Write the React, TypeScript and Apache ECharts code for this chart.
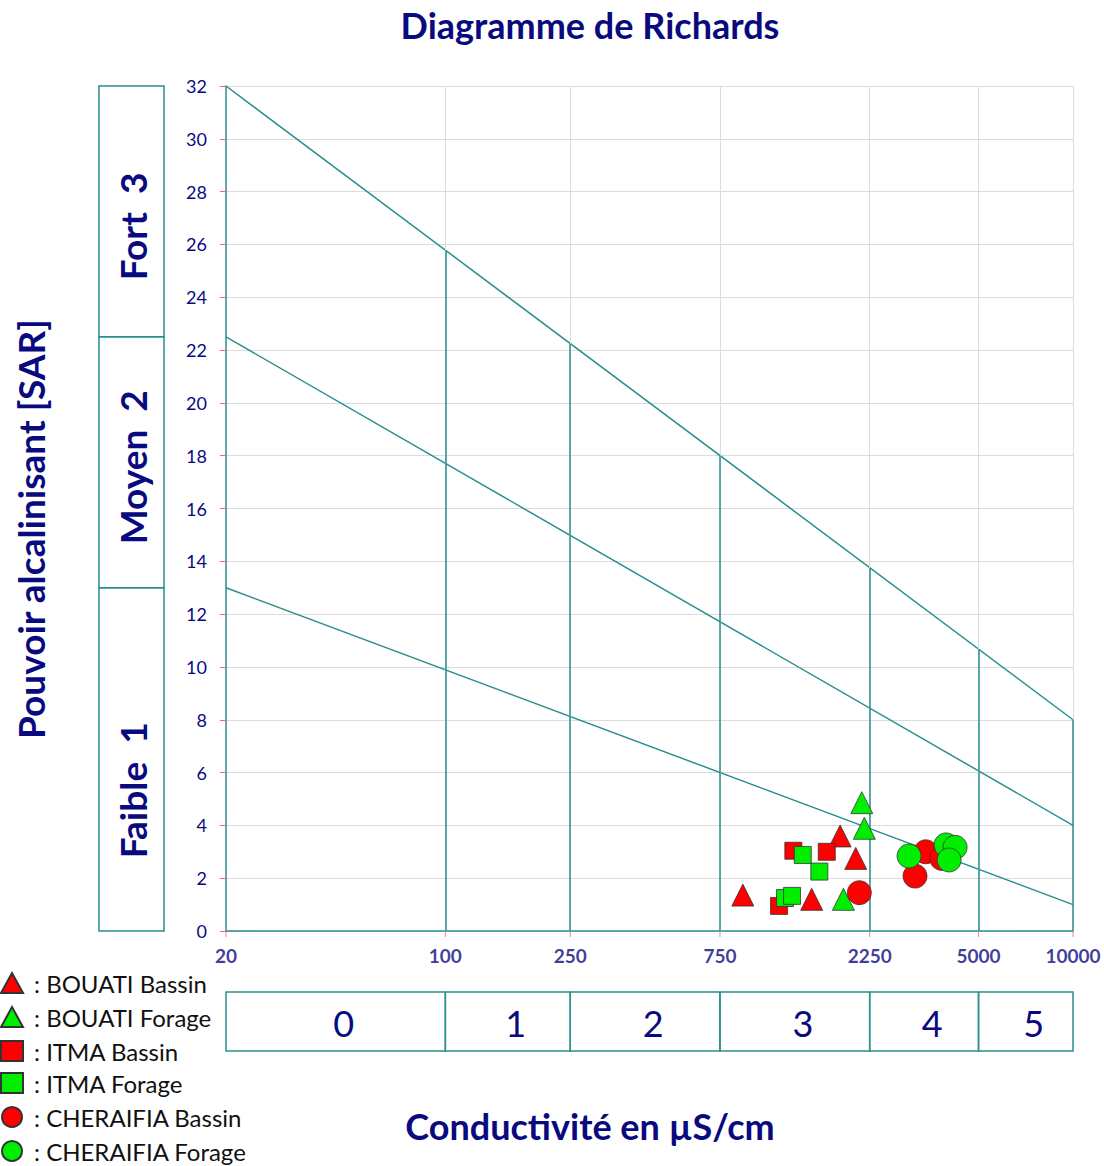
import React, { useEffect, useRef } from 'react';
import * as echarts from 'echarts';

// ---- data ----
const conductivityTicks = [20, 100, 250, 750, 2250, 5000, 10000];
const classLabels = ['0', '1', '2', '3', '4', '5'];
const sarBounds = [0, 13, 22.5, 32];
const sarClassLabels = ['Faible  1', 'Moyen  2', 'Fort  3'];
const topLine = [[20, 32], [10000, 8]];
const midLine = [[20, 22.5], [10000, 4]];
const lowLine = [[20, 13], [10000, 1]];

const seriesNames = ['BOUATI Bassin', 'BOUATI Forage', 'ITMA Bassin', 'ITMA Forage', 'CHERAIFIA Bassin', 'CHERAIFIA Forage'];
const bouatiBassin = [[887, 1.36], [1470, 1.2], [1811, 3.6], [2031, 2.75]];
const bouatiForage = [[2123, 4.86], [2163, 3.89], [1855, 1.2]];
const itmaBassin = [[1285, 3.04], [1642, 3.0], [1157, 0.95]];
const itmaForage = [[1377, 2.88], [1555, 2.25], [1209, 1.25], [1273, 1.33]];
const cheraifiaBassin = [[2085, 1.45], [3138, 2.08], [3394, 3.0], [3818, 2.75]];
const cheraifiaForage = [[3003, 2.84], [3939, 3.26], [4210, 3.17], [4030, 2.69]];

const NAVY = '#0a0a80';
const TEAL = '#2a8f8f';
const GRAY = '#dcdcdc';
const RED = '#ff0000';
const GREEN = '#00ee00';
const FONT = 'Lato';
// vertical pixel shift of the rotated SAR class labels (layout only)
const SAR_LABEL_SHIFT = [31, 5, 15];

function lineAt(line: number[][], x: number) {
  const [x0, y0] = line[0];
  const [x1, y1] = line[1];
  const t = (Math.log10(x) - Math.log10(x0)) / (Math.log10(x1) - Math.log10(x0));
  return y0 + (y1 - y0) * t;
}

export default function App() {
  const ref = useRef<HTMLDivElement>(null);
  useEffect(() => {
    if (!ref.current) return;
    const chart = echarts.init(ref.current, undefined, { renderer: 'svg' });

    const pointSeries = (name: string, data: number[][], symbol: string, color: string, size: number) => ({
      name,
      type: 'scatter',
      xAxisIndex: 0,
      yAxisIndex: 0,
      data,
      symbol,
      symbolSize: size,
      itemStyle: { color, borderColor: '#333', borderWidth: 0.8, opacity: 1 },
      z: 10,
    });

    const legendBase = {
      orient: 'vertical',
      left: 0,
      padding: 0,
      itemWidth: 22,
      itemHeight: 20,
      itemGap: 10,
      formatter: ': {name}',
      textStyle: { fontFamily: FONT, fontSize: 24, color: '#111', padding: [0, 0, 0, 6] },
    };

    const option: any = {
      animation: false,
      graphic: [
        {
          type: 'text', x: 590, y: 25,
          style: { text: 'Diagramme de Richards', font: `bold 36px ${FONT}`, fill: NAVY, align: 'center', verticalAlign: 'middle' },
        },
        {
          type: 'text', x: 590, y: 1126,
          style: { text: 'Conductivité en µS/cm', font: `bold 36px ${FONT}`, fill: NAVY, align: 'center', verticalAlign: 'middle' },
        },
        {
          type: 'text', x: 30, y: 529, rotation: Math.PI / 2,
          style: { text: 'Pouvoir alcalinisant [SAR]', font: `bold 37px ${FONT}`, fill: NAVY, align: 'center', verticalAlign: 'middle' },
        },
      ],
      legend: [
        { ...legendBase, top: 971, data: seriesNames.slice(0, 3) },
        { ...legendBase, top: 1071, data: seriesNames.slice(3) },
      ],
      grid: [
        { left: 226, top: 86, width: 847, height: 845 },
        { left: 226, top: 992, width: 847, height: 59 },
        { left: 99, top: 86, width: 65, height: 845 },
      ],
      xAxis: [
        {
          type: 'log', gridIndex: 0, min: 20, max: 10000, logBase: 10,
          axisLine: { show: true, lineStyle: { color: TEAL, width: 1.5 } },
          axisTick: { show: false }, axisLabel: { show: false }, splitLine: { show: false },
        },
        {
          type: 'log', gridIndex: 1, min: 20, max: 10000, logBase: 10,
          axisLine: { show: false }, axisTick: { show: false }, axisLabel: { show: false }, splitLine: { show: false },
        },
        {
          type: 'value', gridIndex: 2, min: 0, max: 1, show: false,
        },
      ],
      yAxis: [
        {
          type: 'value', gridIndex: 0, min: 0, max: 32, interval: 2,
          axisLine: { show: true, lineStyle: { color: TEAL, width: 1.5 } },
          axisTick: { show: true, length: 6, lineStyle: { color: '#ff6060' } },
          axisLabel: { color: NAVY, fontFamily: FONT, fontSize: 18, margin: 19 },
          splitLine: { show: true, lineStyle: { color: GRAY, width: 1 } },
        },
        { type: 'value', gridIndex: 1, min: 0, max: 1, show: false },
        { type: 'value', gridIndex: 2, min: 0, max: 32, show: false },
      ],
      series: [
        // gray vertical grid lines + teal vertical segments
        {
          type: 'line', xAxisIndex: 0, yAxisIndex: 0, data: [], silent: true, z: 1,
          markLine: {
            silent: true, symbol: ['none', 'none'], label: { show: false },
            lineStyle: { color: GRAY, width: 1, type: 'solid' },
            data: conductivityTicks.slice(1).map((v) => ({ xAxis: v })),
          },
        },
        {
          type: 'line', xAxisIndex: 0, yAxisIndex: 0, data: [], silent: true, z: 3,
          markLine: {
            silent: true, symbol: ['none', 'none'], label: { show: false },
            lineStyle: { color: TEAL, width: 1.5, type: 'solid' },
            data: conductivityTicks.slice(1).map((v) => [
              { coord: [v, 0] },
              { coord: [v, lineAt(topLine, v)] },
            ]),
          },
        },
        ...[topLine, midLine, lowLine].map((ln) => ({
          type: 'line', xAxisIndex: 0, yAxisIndex: 0, data: ln, symbol: 'none', silent: true, z: 3,
          lineStyle: { color: TEAL, width: 1.5 },
        })),
        // x tick labels with red tick marks
        {
          type: 'scatter', xAxisIndex: 0, yAxisIndex: 0, clip: false, silent: true, z: 4,
          data: conductivityTicks.map((v) => [v, 0]),
          symbol: 'rect', symbolSize: [1, 6], symbolOffset: [0, 3],
          itemStyle: { color: '#ff6060' },
          label: {
            show: true, position: 'bottom', distance: 9,
            formatter: (p: any) => String(p.value[0]),
            color: NAVY, fontFamily: FONT, fontWeight: 'bold', fontSize: 19,
          },
        },
        // conductivity class boxes
        {
          type: 'custom', xAxisIndex: 1, yAxisIndex: 1, silent: true,
          encode: { x: [0, 1] },
          data: classLabels.map((_, i) => [conductivityTicks[i], conductivityTicks[i + 1]]),
          renderItem: (params: any, api: any) => {
            const p0 = api.coord([api.value(0), 1]);
            const p1 = api.coord([api.value(1), 0]);
            return {
              type: 'group',
              children: [
                {
                  type: 'rect',
                  shape: { x: p0[0], y: p0[1], width: p1[0] - p0[0], height: p1[1] - p0[1] },
                  style: { fill: 'none', stroke: TEAL, lineWidth: 1.5 },
                },
                {
                  type: 'text',
                  x: (p0[0] + p1[0]) / 2 + 8, y: (p0[1] + p1[1]) / 2 + 1,
                  style: {
                    text: classLabels[params.dataIndex], font: `36px ${FONT}`, fill: NAVY,
                    align: 'center', verticalAlign: 'middle',
                  },
                },
              ],
            };
          },
        },
        // SAR class boxes
        {
          type: 'custom', xAxisIndex: 2, yAxisIndex: 2, silent: true,
          encode: { y: [0, 1] },
          data: sarClassLabels.map((_, i) => [sarBounds[i], sarBounds[i + 1]]),
          renderItem: (params: any, api: any) => {
            const p0 = api.coord([0, api.value(1)]);
            const p1 = api.coord([1, api.value(0)]);
            return {
              type: 'group',
              children: [
                {
                  type: 'rect',
                  shape: { x: p0[0], y: p0[1], width: p1[0] - p0[0], height: p1[1] - p0[1] },
                  style: { fill: 'none', stroke: TEAL, lineWidth: 1.5 },
                },
                {
                  type: 'text',
                  x: (p0[0] + p1[0]) / 2 + 1, y: (p0[1] + p1[1]) / 2 + SAR_LABEL_SHIFT[params.dataIndex],
                  rotation: Math.PI / 2,
                  style: {
                    text: sarClassLabels[params.dataIndex], font: `bold 37px ${FONT}`, fill: NAVY,
                    align: 'center', verticalAlign: 'middle',
                  },
                },
              ],
            };
          },
        },
        pointSeries(seriesNames[0], bouatiBassin, 'triangle', RED, 22),
        pointSeries(seriesNames[1], bouatiForage, 'triangle', GREEN, 22),
        pointSeries(seriesNames[2], itmaBassin, 'rect', RED, 17),
        pointSeries(seriesNames[3], itmaForage, 'rect', GREEN, 17),
        pointSeries(seriesNames[4], cheraifiaBassin, 'circle', RED, 24),
        pointSeries(seriesNames[5], cheraifiaForage, 'circle', GREEN, 24),
      ],
    };

    chart.setOption(option);
    return () => chart.dispose();
  }, []);

  return (
    <div
      ref={ref}
      style={{ position: 'fixed', left: 0, top: 0, width: 1104, height: 1166, background: '#fff' }}
    />
  );
}
